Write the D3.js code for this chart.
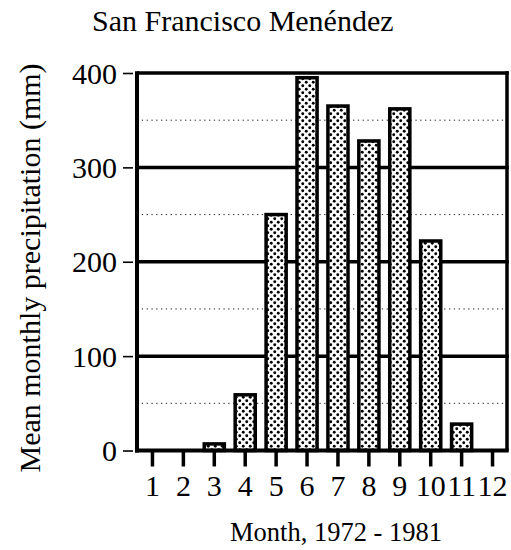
<!DOCTYPE html>
<html>
<head>
<meta charset="utf-8">
<script src="https://cdn.jsdelivr.net/npm/d3@7"></script>
<style>
  html, body { margin: 0; padding: 0; background: #fff; }
  svg { display: block; }
  text { font-family: "Liberation Serif", "Times New Roman", Times, serif; fill: #000; }
</style>
</head>
<body>
<svg id="chart" width="511" height="550"></svg>
<script>
// Mean monthly precipitation, San Francisco Menéndez, 1972-1981
const months = ["1","2","3","4","5","6","7","8","9","10","11","12"];
const precip = [0, 0, 7, 59, 250, 395, 365, 328, 362, 222, 28, 0];
const yTicks = [0, 100, 200, 300, 400];
const yMinor = [50, 150, 250, 350];
const titleText = "San Francisco Menéndez";
const xLabel = "Month, 1972 - 1981";
const yLabel = "Mean monthly precipitation (mm)";

const svg = d3.select("#chart");
const plotLeft = 137, plotRight = 507, plotTop = 73, plotBottom = 450.5;

const x = d3.scaleBand().domain(months).range([plotLeft, plotRight + 1])
  .paddingInner(0.35).paddingOuter(0.175);
const y = d3.scaleLinear().domain([0, 400]).range([plotBottom, plotTop]);

// stipple fill for the bars
const defs = svg.append("defs");
const pat = defs.append("pattern").attr("id", "dots")
  .attr("patternUnits", "userSpaceOnUse").attr("width", 7).attr("height", 7);
pat.append("rect").attr("width", 7).attr("height", 7).attr("fill", "#fff");
pat.append("circle").attr("cx", 1.75).attr("cy", 1.75).attr("r", 1.45).attr("fill", "#000");
pat.append("circle").attr("cx", 5.25).attr("cy", 5.25).attr("r", 1.45).attr("fill", "#000");

// dotted minor gridlines
svg.append("g").selectAll("line").data(yMinor).join("line")
  .attr("x1", plotLeft).attr("x2", plotRight)
  .attr("y1", d => y(d)).attr("y2", d => y(d))
  .attr("stroke", "#222").attr("stroke-width", 1)
  .attr("stroke-dasharray", "1.3,3.5");

// solid major gridlines (the top one forms the frame)
svg.append("g").selectAll("line").data(yTicks.filter(d => d > 0)).join("line")
  .attr("x1", plotLeft).attr("x2", plotRight + 1.75)
  .attr("y1", d => y(d)).attr("y2", d => y(d))
  .attr("stroke", "#000").attr("stroke-width", 3.5);

// right frame edge
svg.append("line")
  .attr("x1", plotRight).attr("x2", plotRight)
  .attr("y1", y(400) - 1.75).attr("y2", plotBottom)
  .attr("stroke", "#000").attr("stroke-width", 3.5);

// bars
svg.append("g").selectAll("rect").data(months.map((m, i) => ({ m, v: precip[i] })).filter(d => d.v > 0))
  .join("rect")
  .attr("x", d => x(d.m))
  .attr("width", x.bandwidth())
  .attr("y", d => y(d.v))
  .attr("height", d => plotBottom - y(d.v))
  .attr("fill", "url(#dots)")
  .attr("stroke", "#000").attr("stroke-width", 3.5);

// y axis
const yAxis = d3.axisLeft(y).tickValues(yTicks).tickSize(0).tickPadding(20);
const gy = svg.append("g").attr("transform", `translate(${plotLeft},0)`).call(yAxis);
gy.select(".domain").remove();
gy.selectAll(".tick text").attr("font-size", 30).attr("dy", "0.34em")
  .style("font-family", "'Liberation Serif', 'Times New Roman', serif");
gy.selectAll(".tick").append("line")
  .attr("x1", -14).attr("x2", -4).attr("stroke", "#000").attr("stroke-width", 1.6);
svg.append("line").attr("x1", plotLeft).attr("x2", plotLeft)
  .attr("y1", plotTop - 1.75).attr("y2", plotBottom + 2)
  .attr("stroke", "#000").attr("stroke-width", 4);

// x axis
const xAxis = d3.axisBottom(x).tickSize(0).tickPadding(24);
const gx = svg.append("g").attr("transform", `translate(0,${plotBottom})`).call(xAxis);
gx.select(".domain").remove();
gx.selectAll(".tick text").attr("font-size", 30).attr("dy", "0.71em")
  .style("font-family", "'Liberation Serif', 'Times New Roman', serif");
gx.selectAll(".tick").append("line")
  .attr("y1", 0).attr("y2", 16).attr("stroke", "#000").attr("stroke-width", 3.5);
svg.append("line").attr("x1", plotLeft - 2).attr("x2", plotRight + 1.75)
  .attr("y1", plotBottom).attr("y2", plotBottom)
  .attr("stroke", "#000").attr("stroke-width", 4);

// titles
svg.append("text").attr("x", 92).attr("y", 31).attr("font-size", 30).text(titleText);
svg.append("text").attr("x", 336).attr("y", 541).attr("text-anchor", "middle")
  .attr("font-size", 26.5).text(xLabel);
svg.append("text")
  .attr("transform", `translate(40,${268})rotate(-90)`)
  .attr("text-anchor", "middle").attr("font-size", 30).text(yLabel);
</script>
</body>
</html>
